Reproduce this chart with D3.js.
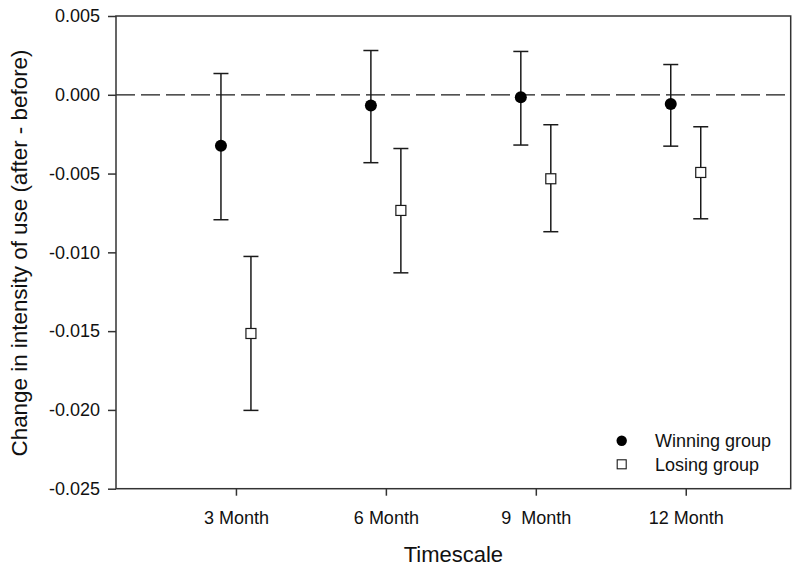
<!DOCTYPE html>
<html>
<head>
<meta charset="utf-8">
<script src="https://cdn.jsdelivr.net/npm/d3@7"></script>
<style>
  html, body { margin: 0; padding: 0; background: #fff; }
  svg { display: block; font-family: Arial, "Liberation Sans", sans-serif; }
</style>
</head>
<body>
<svg id="chart" width="800" height="577"></svg>
<script>
// ---- data ----
const categories = ["3 Month", "6 Month", "9  Month", "12 Month"];
const winningMean  = [-0.00324, -0.00068, -0.00015, -0.00059];
const winningUpper = [ 0.00135,  0.00281,  0.00275,  0.00192];
const winningLower = [-0.00793, -0.00431, -0.00319, -0.00326];
const losingMean   = [-0.01515, -0.00734, -0.00533, -0.00493];
const losingUpper  = [-0.01026, -0.00341, -0.00190, -0.00203];
const losingLower  = [-0.02003, -0.01130, -0.00869, -0.00787];
const yTicks = [0.005, 0.000, -0.005, -0.010, -0.015, -0.020, -0.025];
const legendLabels = ["Winning group", "Losing group"];

// ---- layout ----
const svg = d3.select("#chart");
const margin = {left: 116, top: 16, right: 9.3, bottom: 88.3};
const W = 800, H = 577;
const iw = W - margin.left - margin.right;
const ih = H - margin.top - margin.bottom;
const g = svg.append("g").attr("transform", `translate(${margin.left},${margin.top})`);

const x = d3.scaleLinear().domain([0.2, 4.7]).range([0, iw]);
const y = d3.scaleLinear().domain([-0.025, 0.005]).range([ih, 0]);
const ink = "#1a1a1a";

// dashed zero line
g.append("line")
  .attr("x1", 0).attr("x2", iw)
  .attr("y1", y(0)).attr("y2", y(0))
  .attr("stroke", ink).attr("stroke-width", 1.2)
  .attr("stroke-dasharray", "19,6");

// frame
g.append("rect").attr("x", 0).attr("y", 0).attr("width", iw).attr("height", ih)
  .attr("fill", "none").attr("stroke", "#333").attr("stroke-width", 1.5);

// axes
const yAxis = d3.axisLeft(y).tickValues(yTicks).tickFormat(d3.format(".3f")).tickSize(8).tickPadding(8);
const yg = g.append("g").call(yAxis);
yg.select(".domain").remove();
yg.selectAll("line").attr("stroke", "#333").attr("stroke-width", 1.5);
yg.selectAll("text").attr("font-size", 18).attr("fill", "#111")
  .text(d => d3.format(".3f")(d).replace("−", "-"));

const xAxis = d3.axisBottom(x).tickValues([1, 2, 3, 4]).tickFormat((d, i) => categories[i]).tickSize(7).tickPadding(16);
const xg = g.append("g").attr("transform", `translate(0,${ih})`).call(xAxis);
xg.select(".domain").remove();
xg.selectAll("line").attr("stroke", "#333").attr("stroke-width", 1.5);
xg.selectAll("text").attr("font-size", 18).attr("fill", "#111").style("white-space", "pre");

// error bars + markers
const off = 0.1;
const capHalf = 7.5;
function drawSeries(means, upper, lower, dx, kind) {
  const data = means.map((m, i) => ({i, m, u: upper[i], l: lower[i]}));
  const grp = g.append("g");
  const eb = grp.selectAll("g.eb").data(data).join("g");
  eb.append("line")
    .attr("x1", d => x(d.i + 1 + dx)).attr("x2", d => x(d.i + 1 + dx))
    .attr("y1", d => y(d.u)).attr("y2", d => y(d.l))
    .attr("stroke", ink).attr("stroke-width", 1.5);
  ["u", "l"].forEach(k => {
    eb.append("line")
      .attr("x1", d => x(d.i + 1 + dx) - capHalf).attr("x2", d => x(d.i + 1 + dx) + capHalf)
      .attr("y1", d => y(d[k])).attr("y2", d => y(d[k]))
      .attr("stroke", ink).attr("stroke-width", 1.5);
  });
  if (kind === "circle") {
    eb.append("circle")
      .attr("cx", d => x(d.i + 1 + dx)).attr("cy", d => y(d.m))
      .attr("r", 6).attr("fill", "#000");
  } else {
    eb.append("rect")
      .attr("x", d => x(d.i + 1 + dx) - 5).attr("y", d => y(d.m) - 5)
      .attr("width", 10).attr("height", 10)
      .attr("fill", "#fff").attr("stroke", ink).attr("stroke-width", 1.2);
  }
}
drawSeries(winningMean, winningUpper, winningLower, -off, "circle");
drawSeries(losingMean, losingUpper, losingLower, off, "square");

// legend
const lg = svg.append("g");
lg.append("circle").attr("cx", 621.7).attr("cy", 440.7).attr("r", 5.2).attr("fill", "#000");
lg.append("rect").attr("x", 617.2).attr("y", 459.8).attr("width", 9).attr("height", 9)
  .attr("fill", "#fff").attr("stroke", ink).attr("stroke-width", 1.1);
lg.selectAll("text.lt").data(legendLabels).join("text")
  .attr("x", 655).attr("y", (d, i) => 447 + i * 23.7)
  .attr("font-size", 18).attr("fill", "#111").text(d => d);

// axis titles
svg.append("text").attr("x", margin.left + iw / 2).attr("y", 562)
  .attr("text-anchor", "middle").attr("font-size", 22).attr("fill", "#111").text("Timescale");
svg.append("text").attr("transform", "translate(26.5,253) rotate(-90)")
  .attr("text-anchor", "middle").attr("font-size", 22.4).attr("fill", "#111")
  .text("Change in intensity of use (after - before)");
</script>
</body>
</html>
